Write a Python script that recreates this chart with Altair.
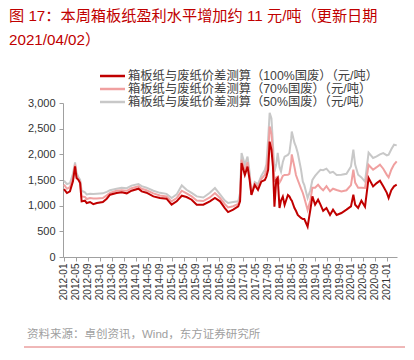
import altair as alt
import pandas as pd

# month index from 2012-01 (0) to 2021-04 (~111)
months = [0, 1, 2, 3, 3.7, 4.2, 4.8, 5.4, 5.9, 7, 7.6, 8.7, 9.8, 11, 13, 14.3, 15.4, 17.6, 19.3, 21,
          22.6, 24.9, 26, 27.6, 29.9, 32.1, 34.3, 36, 37.7, 39.4, 41, 42.7, 44.4, 46.6, 48.8, 50.5,
          52.2, 53.8, 54.9, 56.6, 58.3, 58.9, 59.4, 60.5, 61.4, 62.1, 62.7, 63.8, 64.9, 66, 67.2,
          67.7, 68.3, 68.8, 69.4, 69.9, 70.4, 71, 71.5, 72.1, 72.6, 73.2, 73.8, 74.9, 75.4, 76,
          76.2, 77.1, 77.6, 78.2, 79.3, 79.9, 80.4, 81.5, 82.4, 83.1, 84, 85, 85.8, 86.7, 87.8,
          89, 90, 91.2, 92.8, 94.5, 96, 96.8, 97.4, 98.4, 99.5, 100.7, 101.9, 103.4, 104.6,
          105.7, 106.8, 108, 108.6, 109.5, 110.4, 111.3]

red = [1324, 1246, 1278, 1473, 1765, 1538, 1505, 1440, 1084, 1097, 1051, 1071, 1030, 1051, 1071,
       1136, 1214, 1246, 1259, 1240, 1291, 1330, 1278, 1253, 1181, 1149, 1136, 1019, 1084, 1194,
       1168, 1116, 1019, 1019, 1084, 1149, 1084, 954, 876, 922, 986, 1084, 1832, 1598, 1760, 1501,
       1208, 1403, 1306, 1468, 1501, 1566, 1700, 2248, 2090, 1760, 980, 1501, 1540, 955, 1100,
       1176, 1014, 1208, 1180, 1111, 1100, 955, 900, 819, 760, 740, 740, 591, 916, 1181, 1019,
       1116, 1019, 900, 954, 820, 922, 819, 857, 922, 986, 1214, 1019, 954, 1097, 980, 1540,
       1376, 1440, 1486, 1376, 1250, 1149, 1300, 1376, 1408]

pink = [1408, 1330, 1360, 1550, 1798, 1580, 1520, 1470, 1180, 1170, 1130, 1150, 1140, 1140, 1150,
        1200, 1250, 1290, 1300, 1290, 1340, 1376, 1330, 1300, 1240, 1200, 1180, 1084, 1150, 1291,
        1240, 1180, 1100, 1090, 1160, 1246, 1150, 1030, 967, 990, 1032, 1150, 1895, 1680, 1850,
        1560, 1220, 1430, 1360, 1520, 1600, 1700, 2000, 2540, 2400, 2000, 1468, 1550, 1566, 1450,
        1500, 1580, 1598, 1600, 1620, 1850, 2000, 1750, 1598, 1500, 1330, 1247, 1150, 916, 1100,
        1350, 1350, 1408, 1350, 1300, 1380, 1280, 1330, 1306, 1278, 1300, 1400, 1700, 1450, 1350,
        1350, 1345, 1793, 1700, 1750, 1800, 1720, 1600, 1550, 1700, 1800, 1863]

grey = [1486, 1421, 1440, 1620, 1843, 1640, 1560, 1505, 1291, 1260, 1220, 1230, 1225, 1230, 1240,
        1270, 1300, 1330, 1350, 1340, 1390, 1421, 1380, 1350, 1290, 1250, 1230, 1149, 1220, 1395,
        1310, 1250, 1181, 1160, 1250, 1343, 1220, 1100, 1051, 1070, 1084, 1250, 2027, 1800, 1955,
        1650, 1230, 1460, 1420, 1580, 1700, 1800, 2300, 2807, 2700, 2200, 1663, 1800, 2027, 1750,
        1663, 1850, 1955, 1990, 2027, 2300, 2443, 2222, 2150, 2027, 1700, 1468, 1400, 1150, 1300,
        1500, 1580, 1650, 1700, 1690, 1720, 1640, 1660, 1598, 1603, 1620, 1765, 2090, 1800, 1603,
        1550, 1468, 2033, 1930, 1960, 2000, 2025, 1980, 1992, 2100, 2187, 2174]

series_names = [
    "箱板纸与废纸价差测算（100%国废）（元/吨）",
    "箱板纸与废纸价差测算（70%国废）（元/吨）",
    "箱板纸与废纸价差测算（50%国废）（元/吨）",
]
series_colors = ["#C00000", "#F0A0A0", "#C8C8C8"]

tick_labels = ["2012-01", "2012-05", "2012-09", "2013-01", "2013-06", "2013-09", "2014-01",
               "2014-05", "2014-09", "2015-01", "2015-05", "2015-09", "2016-01", "2016-05",
               "2016-09", "2017-01", "2017-05", "2017-09", "2018-01", "2018-05", "2018-09",
               "2019-01", "2019-05", "2019-09", "2020-01", "2020-05", "2020-09", "2021-01"]
tick_values = [4 * i for i in range(len(tick_labels))]

title_lines = ["图  17：本周箱板纸盈利水平增加约 11 元/吨（更新日期", "2021/04/02）"]
source_text = "资料来源：卓创资讯，Wind，东方证券研究所"

frames = []
for name, vals in zip(series_names, [red, pink, grey]):
    frames.append(pd.DataFrame({"m": months, "v": vals, "s": name}))
df = pd.concat(frames, ignore_index=True)

FONT = "Liberation Sans, Noto Sans CJK SC"
label_arr = "[" + ",".join("'" + t + "'" for t in tick_labels) + "]"

color = alt.Color("s:N", scale=alt.Scale(domain=series_names, range=series_colors), legend=None)

x = alt.X("m:Q", scale=alt.Scale(domain=[-0.33, 111.4], nice=False, zero=False),
          axis=alt.Axis(values=tick_values, labelExpr=label_arr + "[round(datum.value/4)]",
                        labelAngle=270, labelFontSize=10, labelColor="#333333", labelFont=FONT,
                        domainColor="#A0A0A0", tickColor="#A0A0A0", tickSize=4, labelPadding=2,
                        grid=False, title=None, labelOverlap=False))
y = alt.Y("v:Q", scale=alt.Scale(domain=[0, 3000], nice=False),
          axis=alt.Axis(values=[0, 500, 1000, 1500, 2000, 2500, 3000], format=",.0f",
                        labelFontSize=11, labelColor="#333333", labelFont=FONT,
                        domainColor="#A0A0A0", tickColor="#A0A0A0", tickSize=4, labelPadding=4,
                        grid=False, title=None))

layers = []
for name in reversed(series_names):
    layers.append(
        alt.Chart(df).transform_filter(alt.datum.s == name)
        .mark_line(strokeWidth=2, interpolate="linear")
        .encode(x=x, y=y, color=color)
    )

# manual legend (rows 13px apart)
legend_layers = []
for i, (name, col) in enumerate(zip(series_names, series_colors)):
    yy = -27 + 13 * i
    legend_layers.append(
        alt.Chart(pd.DataFrame({"a": [0]})).mark_rule(color=col, strokeWidth=2.5).encode(
            x=alt.value(37), x2=alt.value(62), y=alt.value(yy)))
    legend_layers.append(
        alt.Chart(pd.DataFrame({"t": [name]})).mark_text(
            align="left", baseline="middle", fontSize=12.3, color="#404040", font=FONT
        ).encode(x=alt.value(65), y=alt.value(yy), text="t:N"))

t1 = alt.Chart(pd.DataFrame({"t": [title_lines[0]]})).mark_text(
    align="left", baseline="middle", fontSize=15.2, color="#C00000", font=FONT
).encode(x=alt.value(-54), y=alt.value(-87), text="t:N")
t2 = alt.Chart(pd.DataFrame({"t": [title_lines[1]]})).mark_text(
    align="left", baseline="middle", fontSize=15.2, color="#C00000", font=FONT
).encode(x=alt.value(-54), y=alt.value(-63), text="t:N")
src = alt.Chart(pd.DataFrame({"t": [source_text]})).mark_text(
    align="left", baseline="middle", fontSize=11.5, color="#A0A0A0", font=FONT
).encode(x=alt.value(-36), y=alt.value(232), text="t:N")
line = alt.Chart(pd.DataFrame({"a": [0]})).mark_rule(color="#E07070", strokeWidth=1).encode(
    x=alt.value(-39), x2=alt.value(342), y=alt.value(244))

chart = alt.layer(*layers, *legend_layers, t1, t2, src, line).properties(
    width=334, height=154,
    autosize=alt.AutoSizeParams(type="none"),
    padding={"left": 55, "top": 95, "right": 9, "bottom": 95},
).configure_view(stroke=None)

chart.save("out.html", embed_options={"renderer": "svg", "actions": False})
